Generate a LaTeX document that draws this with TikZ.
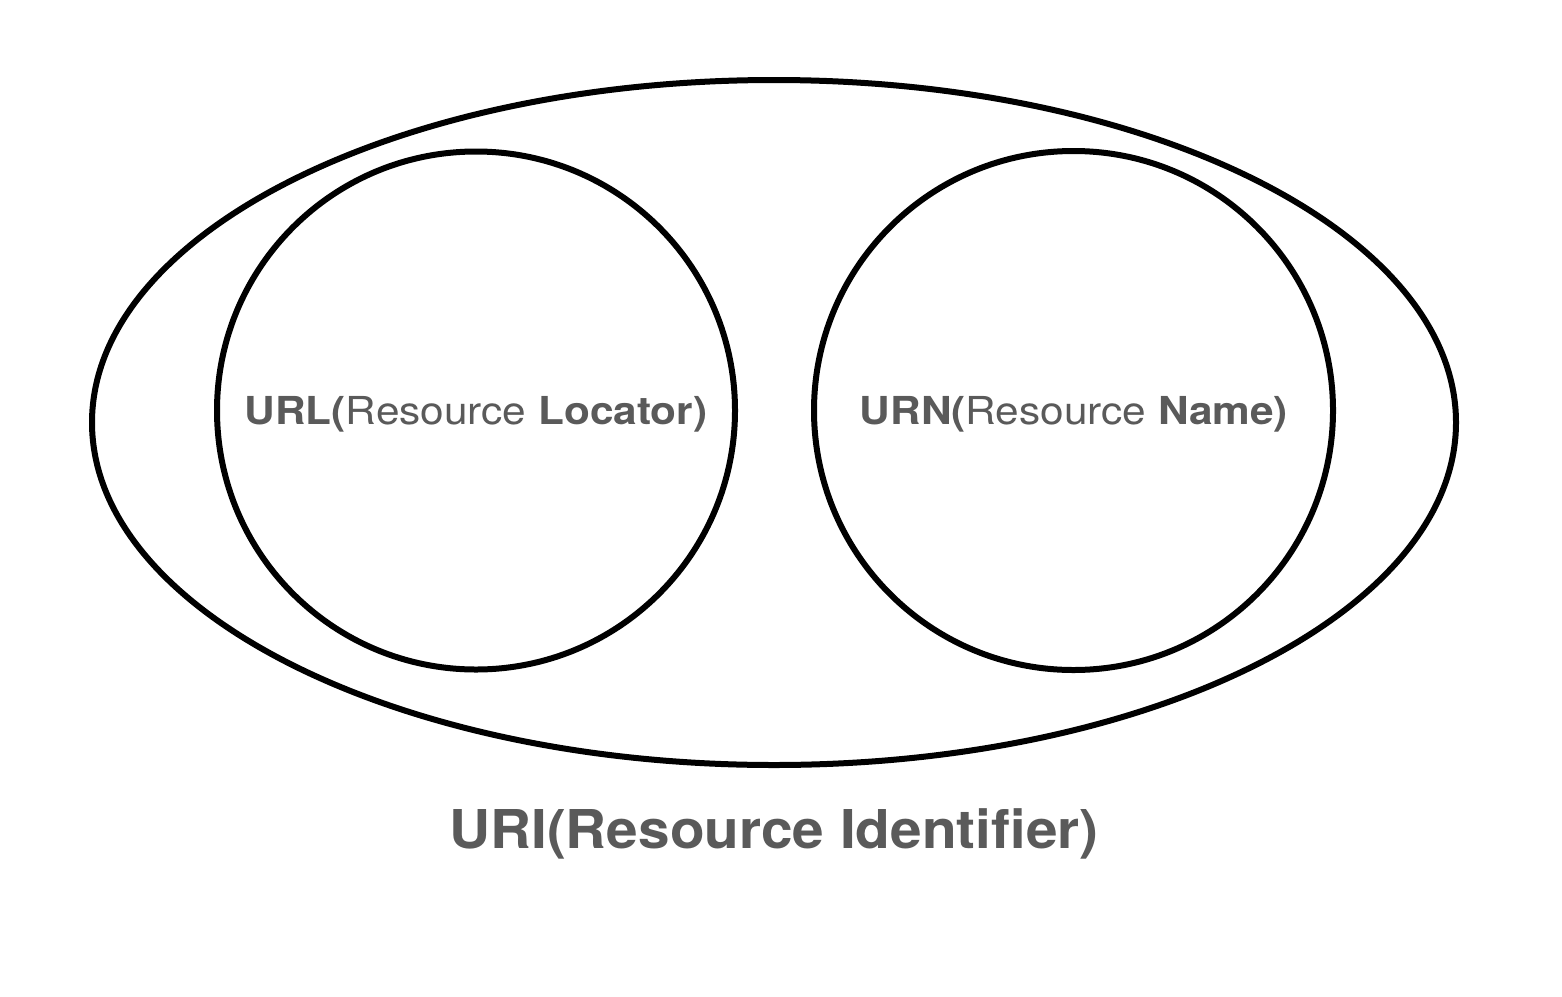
\documentclass[tikz,border=0pt]{standalone}
\usepackage{fontspec}
\setmainfont{TeX Gyre Heros}
\definecolor{txt}{HTML}{5A5A5A}
\begin{document}
\begin{tikzpicture}[x=1pt,y=-1pt,
  shapeline/.style={draw=black,line width=6pt},
  lbl/.style={text=txt,font=\fontsize{38.5}{42}\selectfont,inner sep=0pt,anchor=base},
  biglbl/.style={text=txt,font=\fontsize{53.5}{60}\selectfont\bfseries,inner sep=0pt,anchor=base}]
\useasboundingbox (0,0) rectangle (1562,996);
\fill[white] (0,0) rectangle (1562,996);
\draw[shapeline] (774,422.5) ellipse [x radius=682, y radius=342.5];
\node[shapeline,circle,minimum size=518pt,inner sep=0pt] (url) at (476,410.5) {};
\node[shapeline,circle,minimum size=519pt,inner sep=0pt] (urn) at (1073.5,410.5) {};
\node[lbl] (urlt) at (476,424.5) {\scalebox{1.1}[1]{\textbf{URL(}Resource \textbf{Locator)}}};
\node[lbl] (urnt) at (1074,424.5) {\scalebox{1.1}[1]{\textbf{URN(}Resource \textbf{Name)}}};
\node[biglbl] (urit) at (774,848) {\scalebox{1.06}[1]{URI(Resource Identifier)}};
\end{tikzpicture}
\end{document}
